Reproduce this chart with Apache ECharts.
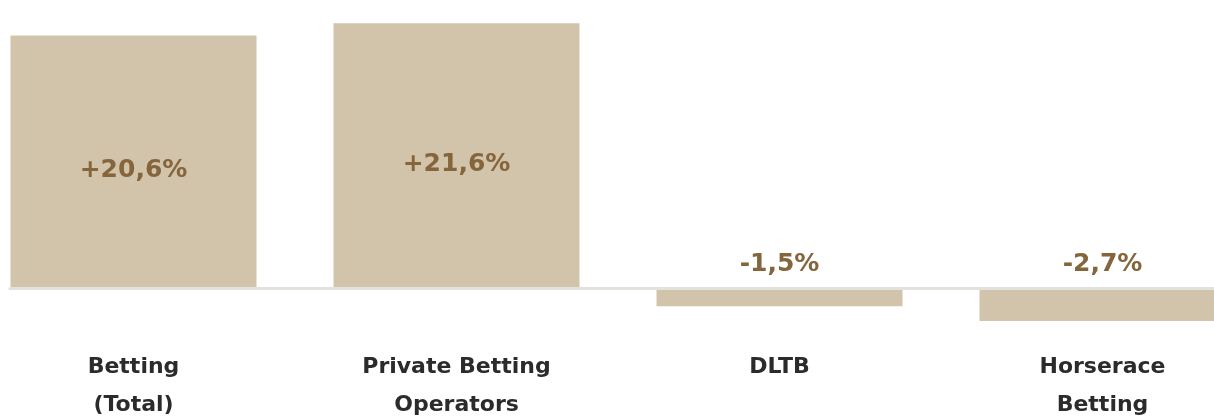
<!DOCTYPE html>
<html><head><meta charset="utf-8">
<script src="https://cdn.jsdelivr.net/npm/echarts@6/dist/echarts.min.js"></script>
<style>html,body{margin:0;padding:0;background:#fff}#c{width:1214px;height:418px}</style>
</head><body><div id="c"></div>
<script>
const categories = ['Betting\n(Total)', 'Private Betting\nOperators', 'DLTB', 'Horserace\nBetting'];
const values = [20.6, 21.6, -1.5, -2.7];
const valueLabels = ['+20,6%', '+21,6%', '-1,5%', '-2,7%'];

const FONT = 'DejaVu Sans';
const chart = echarts.init(document.getElementById('c'), null, {renderer: 'canvas'});
const yCommon = {type: 'value', min: -4, max: 23.5, show: false, splitLine: {show: false}};
chart.setOption({
  animation: false,
  grid: [
    {left: -28, width: 1292, top: 0, height: 337, outerBoundsMode: 'none', containLabel: false},
    {left: 10, right: 0, top: 0, height: 337, outerBoundsMode: 'none', containLabel: false}
  ],
  xAxis: [
    {type: 'category', gridIndex: 0, data: categories,
     axisLine: {show: false}, axisTick: {show: false},
     axisLabel: {margin: 11, fontFamily: FONT, fontWeight: 'bold', fontSize: 22, lineHeight: 38, color: '#2b2b2b', interval: 0}},
    {type: 'category', gridIndex: 1, data: [''], z: 10,
     axisLine: {show: true, onZero: true, lineStyle: {color: '#e2e2dd', width: 3}},
     axisTick: {show: false}, axisLabel: {show: false}}
  ],
  yAxis: [Object.assign({gridIndex: 0}, yCommon), Object.assign({gridIndex: 1}, yCommon)],
  series: [{
    type: 'bar', xAxisIndex: 0, yAxisIndex: 0, barWidth: 246,
    itemStyle: {color: '#d2c3ab'},
    data: values.map((v, i) => ({
      value: v,
      label: v >= 0
        ? {show: true, position: 'inside', offset: [0, 9]}
        : {show: true, position: 'top', distance: 11}
    })),
    label: {
      fontFamily: FONT, fontWeight: 'bold', fontSize: 25, color: '#85653b',
      formatter: p => valueLabels[p.dataIndex]
    }
  }]
});
</script></body></html>
